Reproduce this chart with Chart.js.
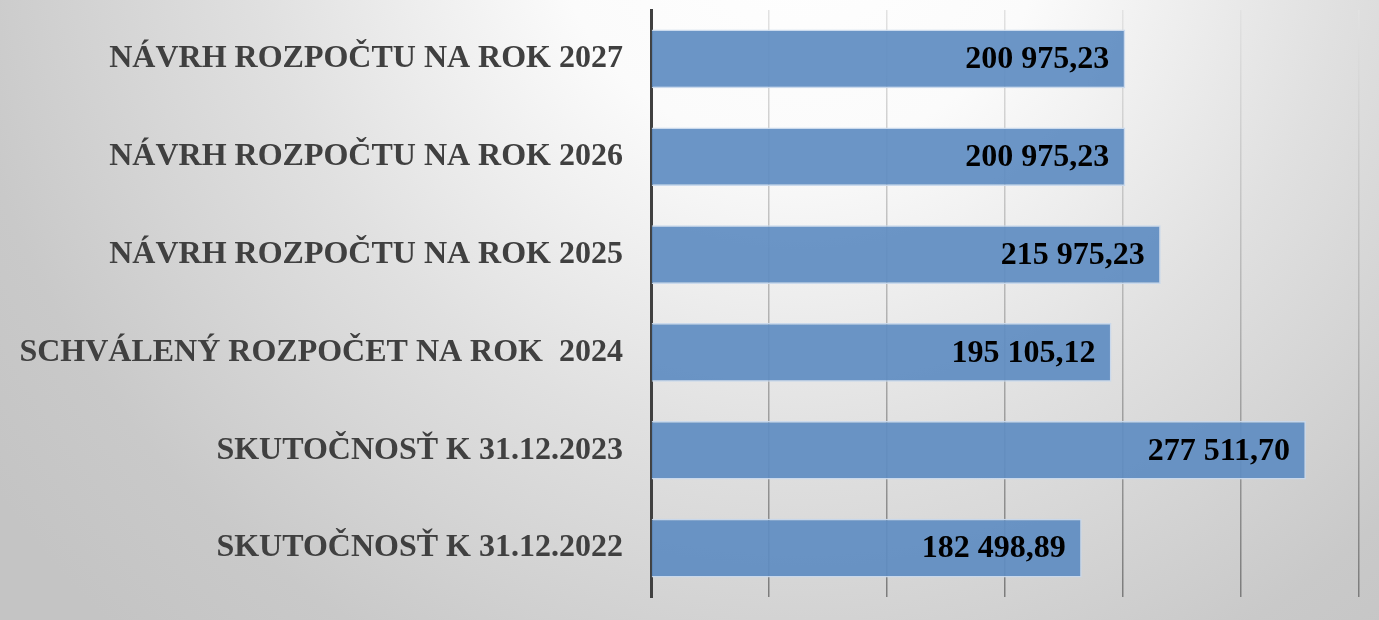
<!DOCTYPE html>
<html>
<head>
<meta charset="utf-8">
<script src="https://cdn.jsdelivr.net/npm/chart.js@4"></script>
<style>
  html, body { margin: 0; padding: 0; background: #d0d0d0; }
  #wrap { width: 1379px; height: 620px; position: relative; }
</style>
</head>
<body>
<div id="wrap"><canvas id="budget"></canvas></div>
<script>
"use strict"

// kategórie (zhora nadol) a hodnoty
const categories = [
    "NÁVRH ROZPOČTU NA ROK 2027",
    "NÁVRH ROZPOČTU NA ROK 2026",
    "NÁVRH ROZPOČTU NA ROK 2025",
    "SCHVÁLENÝ ROZPOČET NA ROK  2024",
    "SKUTOČNOSŤ K 31.12.2023",
    "SKUTOČNOSŤ K 31.12.2022"
];
const values = [200975.23, 200975.23, 215975.23, 195105.12, 277511.70, 182498.89];
const valueLabels = ["200 975,23", "200 975,23", "215 975,23", "195 105,12", "277 511,70", "182 498,89"];
const xMax = 300000;
const xStep = 50000;

const serif = "'Liberation Serif', 'Times New Roman', serif";

// pozadie so svetlým stredom hore
const bgPlugin = {
    id: "bg",
    beforeDraw(chart) {
        const c = chart.ctx;
        const g = c.createRadialGradient(800, -100, 0, 800, -100, 1000);
        g.addColorStop(0, "#ffffff");
        g.addColorStop(0.25, "#fbfbfb");
        g.addColorStop(0.55, "#e0e0e0");
        g.addColorStop(0.85, "#c9c9c9");
        g.addColorStop(1, "#c4c4c4");
        c.save();
        c.fillStyle = g;
        c.fillRect(0, 0, chart.width, chart.height);
        c.restore();
    }
};

// popisy hodnôt na konci stĺpcov
const valuePlugin = {
    id: "vals",
    afterDatasetsDraw(chart) {
        const c = chart.ctx;
        const meta = chart.getDatasetMeta(0);
        c.save();
        c.font = "bold 32px " + serif;
        c.fillStyle = "#000000";
        c.textAlign = "right";
        c.textBaseline = "middle";
        meta.data.forEach((bar, i) => {
            c.fillText(valueLabels[i], bar.x - 16, bar.y + 1);
        });
        c.restore();
    }
};

let gridGrad = null;
function gridColor(ctx) {
    const chart = ctx.chart;
    if (!chart.chartArea) return "#a0a0a0";
    if (!gridGrad) {
        gridGrad = chart.ctx.createLinearGradient(0, chart.chartArea.top, 0, chart.chartArea.bottom);
        gridGrad.addColorStop(0, "#e2e2e2");
        gridGrad.addColorStop(0.5, "#b4b4b4");
        gridGrad.addColorStop(1, "#7c7c7c");
    }
    return gridGrad;
}

new Chart(document.getElementById("budget"), {
    type: "bar",
    data: {
        labels: categories,
        datasets: [{
            data: values,
            backgroundColor: "rgba(96, 141, 194, 0.93)",
            borderColor: "rgba(200, 216, 236, 0.95)",
            borderWidth: 1.5,
            borderSkipped: "start",
            categoryPercentage: 1,
            barPercentage: 0.6
        }]
    },
    plugins: [bgPlugin, valuePlugin],
    options: {
        indexAxis: "y",
        responsive: true,
        maintainAspectRatio: false,
        animation: false,
        layout: { padding: { top: 10, right: 20, bottom: 23, left: 0 } },
        plugins: {
            legend: { display: false },
            tooltip: { enabled: false }
        },
        scales: {
            x: {
                min: 0,
                max: xMax,
                afterFit(scale) { scale.height = 0; scale.paddingLeft = 0; scale.paddingRight = 0; },
                ticks: { display: false, stepSize: xStep },
                grid: { color: gridColor, lineWidth: 1.5, drawTicks: false },
                border: { display: false }
            },
            y: {
                afterFit(scale) { scale.width = 651; scale.paddingTop = 0; scale.paddingBottom = 0; },
                ticks: {
                    color: "#404040",
                    padding: 28,
                    font: { family: serif, size: 32, weight: "bold" }
                },
                grid: { display: false, drawTicks: false },
                border: { display: true, color: "#404040", width: 3 }
            }
        }
    }
});
</script>
</body>
</html>
